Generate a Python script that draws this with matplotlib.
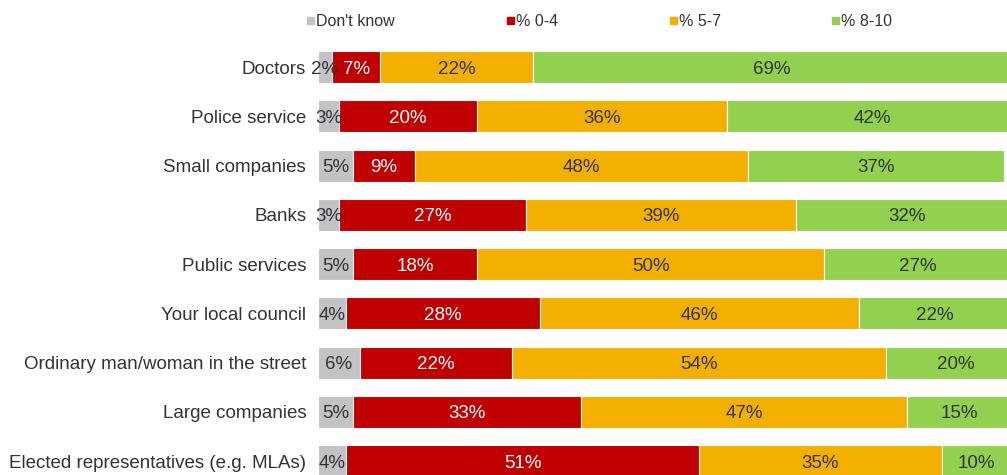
import matplotlib.pyplot as plt
from matplotlib.patches import Rectangle

plt.rcParams['font.family'] = ['Liberation Sans', 'DejaVu Sans']

# Datos de la encuesta de confianza
categorias = [
    "Doctors",
    "Police service",
    "Small companies",
    "Banks",
    "Public services",
    "Your local council",
    "Ordinary man/woman in the street",
    "Large companies",
    "Elected representatives (e.g. MLAs)",
]
no_sabe = [2, 3, 5, 3, 5, 4, 6, 5, 4]
p_0_4 = [7, 20, 9, 27, 18, 28, 22, 33, 51]
p_5_7 = [22, 36, 48, 39, 50, 46, 54, 47, 35]
p_8_10 = [69, 42, 37, 32, 27, 22, 20, 15, 10]

series = [
    ("Don't know", no_sabe, "#C3C3C6", "#333333"),
    ("% 0-4", p_0_4, "#C00000", "white"),
    ("% 5-7", p_5_7, "#F4B000", "#333333"),
    ("% 8-10", p_8_10, "#92D050", "#333333"),
]

fig = plt.figure(figsize=(10.07, 4.75), dpi=100)
ax = fig.add_axes([318 / 1007, 0, 1 - 318 / 1007, 1])

ys = list(range(len(categorias)))
izq = [0] * len(categorias)

# -----------------------------
# Barras apiladas con etiquetas
# -----------------------------
for nombre, valores, color, color_txt in series:
    ax.barh(ys, valores, left=izq, height=0.65, color=color,
            edgecolor="white", linewidth=0.8)
    for y, v, l in zip(ys, valores, izq):
        ax.text(l + v / 2, y, f"{v}%", ha="center", va="center_baseline",
                fontsize=13.5, color=color_txt)
    izq = [a + b for a, b in zip(izq, valores)]

ax.set_xlim(0, 99.4)
ax.set_ylim(8.28, -1.36)
ax.set_yticks(ys)
ax.set_yticklabels(categorias, fontsize=13.5, color="#333333")
ax.tick_params(axis="y", length=0, pad=8.5)
ax.set_xticks([])
for s in ax.spines.values():
    s.set_visible(False)

# -----------------------------
# Leyenda superior
# -----------------------------
pos_leyenda = [307, 507, 670, 832]
for (nombre, _, color, _), px in zip(series, pos_leyenda):
    fig.patches.append(Rectangle((px / 1007, 1 - 24 / 475), 7 / 1007, 7 / 475,
                                 transform=fig.transFigure, color=color))
    fig.text((px + 9) / 1007, 1 - 20 / 475, nombre, fontsize=11.5,
             color="#333333", va="center_baseline", ha="left")

fig.savefig("out.png", dpi=100)
